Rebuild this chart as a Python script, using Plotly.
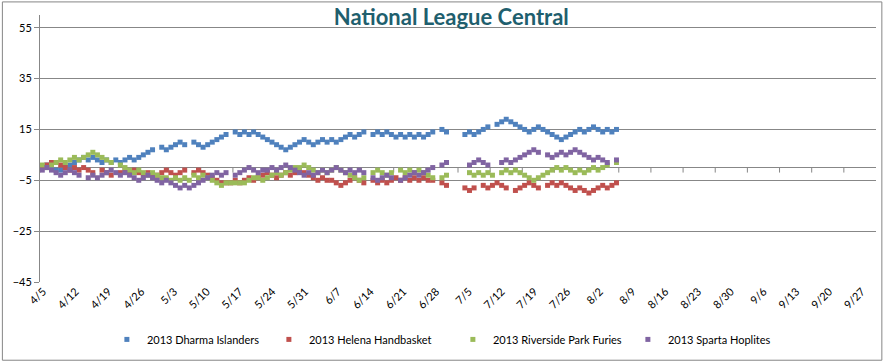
import pandas as pd
import plotly.graph_objects as go

N = None
START = "2013-04-05"
DAYS = 126
DATES = pd.date_range(START, periods=DAYS, freq="D")

dharma = [0, 1, 0, -1, -1, 0, 1, 2, 3, 4,
          3, 4, 3, 2, 3, 2, 3, 2, 3, 4,
          3, 4, 5, 6, 7, N, 8, 7, 8, 9,
          10, 9, N, 10, 9, 8, 9, 10, 11, 12,
          13, N, 14, 13, 14, 13, 14, 13, 12, 11,
          10, 9, 8, 7, 8, 9, 10, 11, 10, 9,
          10, 11, 10, 11, 10, 11, 12, 13, 12, 13,
          14, N, 13, 14, 13, 14, 13, 12, 13, 12,
          13, 12, 13, 12, 13, 14, N, 15, 14, N,
          N, N, 13, 14, 13, 14, 15, 16, N, 17,
          18, 19, 18, 17, 16, 15, 14, 15, 16, 15,
          14, 13, 12, 11, 12, 13, 14, 15, 14, 15,
          16, 15, 14, 15, 14, 15]

helena = [0, 1, 2, 2, 1, 0, -1, 0, -1, 0,
          -1, -2, N, -1, -2, -3, N, -2, -1, -2,
          -1, -2, -3, -2, -3, -3, -2, -1, -2, -3,
          -2, -1, N, -2, -1, -2, -3, -4, -5, -6,
          -6, -6, -5, -6, -5, -4, -5, -4, -3, -2,
          -3, -4, -3, -2, -3, -2, -1, -2, -3, -4,
          -5, -4, -5, -5, -6, -7, -6, -5, -4, -5,
          -6, N, -5, -6, -5, -6, -5, -4, -5, -4,
          -5, -4, -5, -4, -5, -5, N, -6, -7, N,
          N, N, -8, -9, -8, N, -7, -8, -7, -6,
          -7, -8, N, -9, -8, -7, -6, -7, -8, N,
          -7, -6, -7, -6, -7, -8, -9, -8, -9, -10,
          -9, -8, -7, -8, -7, -6]

riverside = [1, 0, 1, 2, 3, 2, 3, 4, 3, 4,
             5, 6, 5, 4, 3, 2, N, 1, 0, -1,
             -2, -1, -2, -3, -2, -3, -4, -4, -5, -4,
             -5, -4, -5, -3, -4, -3, -4, -5, -6, -7,
             -6, -6, -6, -6, -6, -5, -4, -4, -5, -4,
             -3, -2, -3, -2, -1, 0, 0, 1, 0, -1,
             -2, -1, -2, -1, 0, -1, -2, -3, -4, -5,
             -4, N, -2, -1, -2, -3, -2, N, -1, -2,
             -1, -2, -1, -2, -3, -4, N, -4, -3, N,
             N, N, N, -2, -3, -2, -3, -2, -3, N,
             -2, -1, -2, -1, -2, -3, -4, -5, -4, -3,
             -2, -1, 0, -1, 0, -1, -2, -1, -2, -1,
             0, -1, 0, 1, N, 2]

sparta = [-1, 0, -1, -2, -3, -2, -1, -2, -3, N,
          -4, -3, -4, -3, -2, -1, -2, -3, -2, -3,
          -4, -5, -4, -3, -4, -5, -6, -5, -6, -7,
          -8, -7, -8, -7, -6, -5, -4, -3, -2, -3,
          -2, N, -3, -2, -1, 0, -1, -2, -1, -1,
          0, -1, 0, 1, 0, -1, -2, -3, -2, -3,
          -2, -1, -2, -1, 0, -1, -2, -1, -2, -1,
          -2, N, -4, -5, -4, -3, -4, N, -5, -4,
          -3, -2, -3, -2, -1, 0, N, 1, 2, N,
          N, N, N, 1, 2, 3, 2, 1, N, N,
          2, 3, 2, 3, 4, 5, 6, 7, 6, N,
          5, 4, 5, 6, 5, 6, 7, 6, 5, 4,
          3, 4, 3, 2, N, 3]

SERIES = [
    ("2013 Dharma Islanders", dharma, "#4F81BD", 117),
    ("2013 Helena Handbasket", helena, "#C0504D", 139),
    ("2013 Riverside Park Furies", riverside, "#9BBB59", 130),
    ("2013 Sparta Hoplites", sparta, "#8064A2", 100),
]

TITLE = "National League Central"
Y_TICKS = [-45, -25, -5, 15, 35, 55]
Y_RANGE = [-45, 60]
X_RANGE = ["2013-04-05", "2013-10-04"]
LABEL_RANGE = ["2013-04-04 08:38", "2013-09-30 00:38"]
X_TICKS = pd.date_range("2013-04-05", "2013-09-27", freq="7D")

FONT = "Lato, 'Open Sans', sans-serif"
GRID = "#878787"

fig = go.Figure()
for name, vals, color, lw in SERIES:
    fig.add_trace(go.Scatter(
        x=DATES, y=vals, name=name, mode="markers",
        xperiod=86400000, xperiodalignment="middle",
        legendwidth=lw,
        marker=dict(symbol="square", size=5, color=color, line=dict(width=0)),
    ))

# invisible carrier trace so the date-label axis is drawn
fig.add_trace(go.Scatter(
    x=X_TICKS, y=[0] * len(X_TICKS), xaxis="x2", yaxis="y", mode="markers",
    marker=dict(size=1, opacity=0), showlegend=False, hoverinfo="skip",
))

# tick marks on the horizontal (zero) axis
for d in X_TICKS:
    fig.add_shape(type="line", xref="x", yref="y", x0=d, x1=d,
                  ysizemode="pixel", yanchor=0, y0=0, y1=-5,
                  line=dict(color=GRID, width=1), layer="below")

fig.update_layout(
    width=885, height=362,
    margin=dict(l=40, r=9, t=15, b=80, autoexpand=False),
    paper_bgcolor="white", plot_bgcolor="white",
    title=dict(text="<b>" + TITLE + "</b>", x=0.51, xanchor="center", y=0.952, yanchor="middle",
               font=dict(family=FONT, size=22, color="#1F5F6E")),
    font=dict(family=FONT, size=11, color="black"),
    showlegend=True,
    legend=dict(orientation="h", x=0.08, xanchor="left", y=-0.215, yanchor="middle",
                font=dict(size=11), itemwidth=30, traceorder="normal"),
    xaxis=dict(type="date", range=X_RANGE, showticklabels=False, showgrid=False,
               zeroline=False, showline=False, ticks="", automargin=False),
    xaxis2=dict(type="date", range=LABEL_RANGE, overlaying="x", anchor="y", side="bottom",
                tickvals=X_TICKS, tickformat="%-m/%-d", tickangle=-45,
                showgrid=False, zeroline=False, showline=False, ticks="",
                tickfont=dict(size=11), automargin=False),
    yaxis=dict(range=Y_RANGE, tickvals=Y_TICKS, showgrid=True, gridcolor=GRID, gridwidth=1,
               zeroline=True, zerolinecolor=GRID, zerolinewidth=1,
               showline=True, linecolor=GRID, ticks="outside", ticklen=5, tickcolor=GRID,
               tickfont=dict(size=11), automargin=False),
    shapes=list(fig.layout.shapes) + [
        dict(type="rect", xref="paper", yref="paper", x0=-0.045, x1=1.007, y0=-0.293, y1=1.049,
             line=dict(color="#868686", width=1), fillcolor="rgba(0,0,0,0)", layer="below")
    ],
)

fig.write_html("out.html", config={"displayModeBar": False},
               post_script="document.body.style.margin='0';document.body.style.overflow='hidden';")
